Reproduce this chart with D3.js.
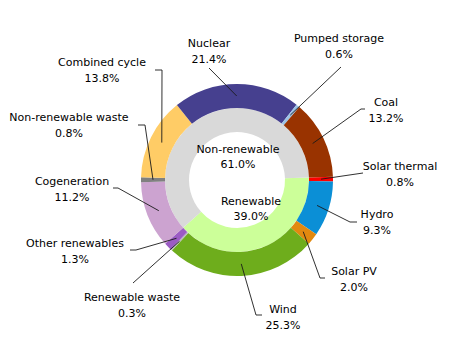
<!DOCTYPE html>
<html>
<head>
<meta charset="utf-8">
<script src="https://cdn.jsdelivr.net/npm/d3@7"></script>
<style>
  html, body { margin: 0; padding: 0; background: #fff; }
  svg { display: block; }
  text { font-family: "DejaVu Sans", Verdana, sans-serif; font-size: 11px; fill: #000; }
</style>
</head>
<body>
<svg id="chart" width="464" height="356"></svg>
<script>
// ---- Data ----
const categories = ["Solar thermal", "Hydro", "Solar PV", "Wind", "Renewable waste", "Other renewables",
                    "Cogeneration", "Non-renewable waste", "Combined cycle", "Nuclear", "Pumped storage", "Coal"];
const values = [0.8, 9.3, 2.0, 25.3, 0.3, 1.3, 11.2, 0.8, 13.8, 21.4, 0.6, 13.2];
const valueLabels = ["0.8%", "9.3%", "2.0%", "25.3%", "0.3%", "1.3%", "11.2%", "0.8%", "13.8%", "21.4%", "0.6%", "13.2%"];
const groups = ["Renewable", "Non-renewable"];
const groupValues = [39.0, 61.0];
const groupLabels = ["39.0%", "61.0%"];

// ---- Styles ----
const colors = ["#FF0000", "#0B8FD6", "#E2890F", "#6EAD1C", "#B8B8B8", "#9B5BC4",
                "#CCA3D0", "#808080", "#FFCC66", "#46408F", "#9DC3E6", "#993300"];
const groupColors = ["#CCFF99", "#D9D9D9"];

// ---- Layout ----
const cx = 237, cy = 180;
const rOuter = 96, rMid = 72, rInner = 48;
const startAngle = 88 * Math.PI / 180;

// label layout: text center x, first baseline y, leader polyline start points
const labelLayout = [
  { x: 400, y: 170, pts: [[363, 173]] },
  { x: 377, y: 218, pts: [[357, 222], [350, 222]] },
  { x: 354, y: 275, pts: [[325, 278], [320, 278]] },
  { x: 283, y: 313, pts: [[262, 315], [256, 315]] },
  { x: 132, y: 301, pts: [[133, 283]] },
  { x: 75, y: 247, pts: [[130, 250], [136, 250]] },
  { x: 72, y: 185, pts: [[113, 188], [118, 188]] },
  { x: 69, y: 121, pts: [[138, 125], [145, 125]] },
  { x: 102, y: 66, pts: [[155, 70], [162, 70]] },
  { x: 209, y: 47, pts: [[209, 68]] },
  { x: 339, y: 42, pts: [[341, 67]] },
  { x: 386, y: 106, pts: [[365, 109], [361, 109]] }
];
const groupLabelLayout = [ { x: 251, y: 205 }, { x: 238, y: 153 } ];
const lineGap = 16;

const svg = d3.select("#chart");
const g = svg.append("g").attr("transform", `translate(${cx},${cy})`);

const pie = d3.pie().sort(null).startAngle(startAngle).endAngle(startAngle + 2 * Math.PI);

// Inner ring
const innerArcs = pie(groupValues);
const innerArc = d3.arc().innerRadius(rInner).outerRadius(rMid);
g.selectAll("path.inner").data(innerArcs).enter().append("path")
  .attr("class", "inner")
  .attr("d", innerArc)
  .attr("fill", (d, i) => groupColors[i]);

// Outer ring
const outerArcs = pie(values);
const outerArc = d3.arc().innerRadius(rMid).outerRadius(rOuter);
g.selectAll("path.outer").data(outerArcs).enter().append("path")
  .attr("class", "outer")
  .attr("d", outerArc)
  .attr("fill", (d, i) => colors[i]);

// Leader lines
const anchorArc = d3.arc().innerRadius(84).outerRadius(84);
const line = d3.line();
outerArcs.forEach((d, i) => {
  const c = anchorArc.centroid(d);
  const pts = labelLayout[i].pts.map(p => [p[0], p[1]]).concat([[c[0] + cx, c[1] + cy]]);
  svg.append("path")
    .attr("d", line(pts))
    .attr("fill", "none")
    .attr("stroke", "#1a1a1a")
    .attr("stroke-width", 0.9);
});

// Outer labels
categories.forEach((name, i) => {
  const L = labelLayout[i];
  const t = svg.append("text").attr("text-anchor", "middle");
  t.append("tspan").attr("x", L.x).attr("y", L.y).text(name);
  t.append("tspan").attr("x", L.x).attr("y", L.y + lineGap).text(valueLabels[i]);
});

// Inner labels
groups.forEach((name, i) => {
  const L = groupLabelLayout[i];
  const t = svg.append("text").attr("text-anchor", "middle");
  t.append("tspan").attr("x", L.x).attr("y", L.y).text(name);
  t.append("tspan").attr("x", L.x).attr("y", L.y + 15).text(groupLabels[i]);
});
</script>
</body>
</html>
